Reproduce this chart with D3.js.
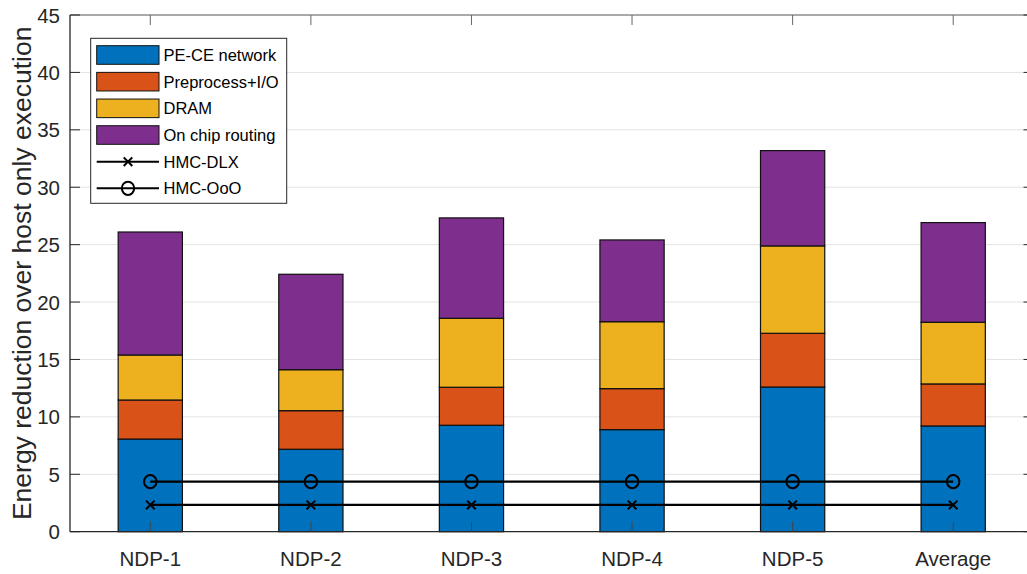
<!DOCTYPE html>
<html>
<head>
<meta charset="utf-8">
<script src="https://cdn.jsdelivr.net/npm/d3@7"></script>
<style>
  html, body { margin: 0; padding: 0; background: #fff; }
  svg { display: block; font-family: "Liberation Sans", Arial, Helvetica, sans-serif; }
</style>
</head>
<body>
<svg id="chart" width="1027" height="574"></svg>
<script>
// Categories and stacked energy-reduction components
const categories = ["NDP-1", "NDP-2", "NDP-3", "NDP-4", "NDP-5", "Average"];
const peCeNetwork = [8.07, 7.18, 9.27, 8.89, 12.60, 9.21];
const preprocessIO = [3.40, 3.36, 3.31, 3.57, 4.68, 3.66];
const dram = [3.92, 3.57, 6.01, 5.83, 7.61, 5.37];
const onChipRouting = [10.71, 8.31, 8.74, 7.12, 8.30, 8.68];

// Reference baselines
const hmcDlx = [2.33, 2.33, 2.33, 2.33, 2.33, 2.33];
const hmcOoo = [4.36, 4.36, 4.36, 4.36, 4.36, 4.36];

const yTicks = [0, 5, 10, 15, 20, 25, 30, 35, 40, 45];

const seriesNames = ["PE-CE network", "Preprocess+I/O", "DRAM", "On chip routing"];
const seriesColors = ["#0072BD", "#D95319", "#EDB120", "#7E2F8E"];

const svg = d3.select("#chart");
const plotLeft = 70, plotRight = 1033.5, plotTop = 15, plotBottom = 531.7;
const axisColor = "#262626";

const x = d3.scaleLinear().domain([0.5, categories.length + 0.5]).range([plotLeft, plotRight]);
const y = d3.scaleLinear().domain([0, 45]).range([plotBottom, plotTop]);
const barW = x(1.4) - x(1);

// Grid
svg.append("g").selectAll("line").data(yTicks.filter(d => d > 0 && d < 45)).join("line")
  .attr("x1", plotLeft).attr("x2", plotRight)
  .attr("y1", d => y(d)).attr("y2", d => y(d))
  .attr("stroke", "#e3e3e3").attr("stroke-width", 1);

// Stacked bars
const rows = categories.map((c, i) => ({
  cat: c, idx: i + 1,
  s0: peCeNetwork[i], s1: preprocessIO[i], s2: dram[i], s3: onChipRouting[i]
}));
const stack = d3.stack().keys(["s0", "s1", "s2", "s3"])(rows);

svg.append("g").selectAll("g").data(stack).join("g")
  .attr("fill", (d, i) => seriesColors[i])
  .selectAll("rect").data(d => d).join("rect")
  .attr("x", d => x(d.data.idx) - barW / 2)
  .attr("width", barW)
  .attr("y", d => y(d[1]))
  .attr("height", d => y(d[0]) - y(d[1]))
  .attr("stroke", "#111").attr("stroke-width", 1.2);

// Axes box and ticks
const axisG = svg.append("g").attr("stroke", axisColor).attr("stroke-width", 1).attr("fill", "none");
axisG.append("line").attr("x1", plotLeft).attr("x2", plotRight).attr("y1", plotBottom).attr("y2", plotBottom).attr("stroke-width", 1.3);
axisG.append("line").attr("x1", plotLeft).attr("x2", plotRight).attr("y1", plotTop).attr("y2", plotTop).attr("stroke", "#555");
axisG.append("line").attr("x1", plotLeft).attr("x2", plotLeft).attr("y1", plotTop).attr("y2", plotBottom).attr("stroke-width", 1.3);
axisG.append("line").attr("x1", plotRight).attr("x2", plotRight).attr("y1", plotTop).attr("y2", plotBottom);

const tickLen = 10;
axisG.selectAll(".yt").data(yTicks).join("line")
  .attr("x1", plotLeft).attr("x2", plotLeft + tickLen)
  .attr("y1", d => y(d)).attr("y2", d => y(d));
axisG.selectAll(".yr").data(yTicks).join("line")
  .attr("x1", plotRight).attr("x2", plotRight - tickLen)
  .attr("y1", d => y(d)).attr("y2", d => y(d));
axisG.selectAll(".xb").data(categories).join("line")
  .attr("x1", (d, i) => x(i + 1)).attr("x2", (d, i) => x(i + 1))
  .attr("y1", plotBottom).attr("y2", plotBottom - tickLen).attr("stroke", "#444");
axisG.selectAll(".xt").data(categories).join("line")
  .attr("x1", (d, i) => x(i + 1)).attr("x2", (d, i) => x(i + 1))
  .attr("y1", plotTop).attr("y2", plotTop + tickLen).attr("stroke", "#666");

// Tick labels
svg.append("g").selectAll("text").data(yTicks).join("text")
  .attr("x", plotLeft - 10).attr("y", d => y(d))
  .attr("text-anchor", "end").attr("dominant-baseline", "central")
  .attr("font-size", 20.5).attr("fill", axisColor)
  .text(d => d);

svg.append("g").selectAll("text").data(categories).join("text")
  .attr("x", (d, i) => x(i + 1)).attr("y", 566)
  .attr("text-anchor", "middle")
  .attr("font-size", 20.5).attr("fill", axisColor)
  .text(d => d);

// Y axis title
svg.append("text")
  .attr("transform", `translate(31, ${(plotTop + plotBottom) / 2}) rotate(-90)`)
  .attr("text-anchor", "middle")
  .attr("font-size", 26.5).attr("fill", axisColor)
  .text("Energy reduction over host only execution");

// Baseline lines with markers
const lineGen = d3.line().x((d, i) => x(i + 1)).y(d => y(d));
function drawMarkerX(g, cx, cy, r) {
  g.append("path")
    .attr("d", `M${cx - r},${cy - r}L${cx + r},${cy + r}M${cx - r},${cy + r}L${cx + r},${cy - r}`)
    .attr("stroke", "#000").attr("stroke-width", 2).attr("fill", "none");
}
function drawMarkerO(g, cx, cy, r) {
  g.append("ellipse").attr("cx", cx).attr("cy", cy).attr("rx", r).attr("ry", r + 0.4)
    .attr("stroke", "#000").attr("stroke-width", 2).attr("fill", "none");
}

const linesG = svg.append("g");
linesG.append("path").datum(hmcDlx).attr("d", lineGen)
  .attr("stroke", "#000").attr("stroke-width", 2.2).attr("fill", "none");
linesG.append("path").datum(hmcOoo).attr("d", lineGen)
  .attr("stroke", "#000").attr("stroke-width", 2.2).attr("fill", "none");
hmcDlx.forEach((v, i) => drawMarkerX(linesG, x(i + 1), y(v), 4.3));
hmcOoo.forEach((v, i) => drawMarkerO(linesG, x(i + 1), y(v), 6.2));

// Legend
const lg = svg.append("g");
lg.append("rect").attr("x", 90.7).attr("y", 38.3).attr("width", 196).attr("height", 165)
  .attr("fill", "#fff").attr("stroke", axisColor).attr("stroke-width", 1);
const rowY = i => 55 + i * 26.67;
seriesNames.forEach((name, i) => {
  lg.append("rect").attr("x", 96.7).attr("y", rowY(i) - 9.3).attr("width", 62.3).attr("height", 18.6)
    .attr("fill", seriesColors[i]).attr("stroke", "#111").attr("stroke-width", 1);
});
const legendNames = seriesNames.concat(["HMC-DLX", "HMC-OoO"]);
lg.selectAll("text").data(legendNames).join("text")
  .attr("x", 163.5).attr("y", (d, i) => rowY(i))
  .attr("dominant-baseline", "central")
  .attr("font-size", 16.5).attr("fill", "#000")
  .text(d => d);
[4, 5].forEach(i => {
  lg.append("line").attr("x1", 96.7).attr("x2", 159).attr("y1", rowY(i)).attr("y2", rowY(i))
    .attr("stroke", "#000").attr("stroke-width", 2);
});
drawMarkerX(lg, 128, rowY(4), 4.3);
drawMarkerO(lg, 128, rowY(5), 6.2);
</script>
</body>
</html>
